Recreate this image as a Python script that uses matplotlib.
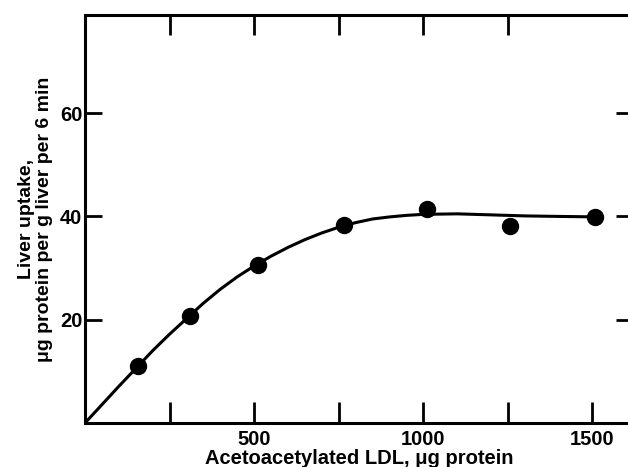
import matplotlib
matplotlib.use("Agg")
import matplotlib.pyplot as plt

# Data
ldl_x = [158, 309, 510, 766, 1011, 1256, 1509]
uptake_y = [11.1, 20.7, 30.5, 38.3, 41.4, 38.2, 39.8]

curve_x = [0, 100, 200, 250, 300, 350, 400, 450, 500, 550, 600, 650, 700, 750,
           800, 850, 900, 950, 1000, 1100, 1200, 1300, 1400, 1520]
curve_y = [0, 7.1, 14.0, 17.2, 20.2, 23.2, 25.9, 28.3, 30.4, 32.3, 34.0, 35.5,
           36.8, 37.9, 38.8, 39.5, 39.9, 40.2, 40.4, 40.5, 40.3, 40.1, 40.0, 39.9]

bottom_ticks = [250, 500, 750, 1000, 1250, 1500]
bottom_labels = ["", "500", "", "1000", "", "1500"]
top_ticks = [250, 500, 750, 1000, 1250]
y_ticks = [20, 40, 60]
y_labels = ["20", "40", "60"]

plt.rcParams['font.family'] = ['Liberation Sans', 'DejaVu Sans']

fig = plt.figure(figsize=(6.28, 4.67), dpi=100)
W, H = 628, 467
left_px, right_px, top_px, bottom_px = 85, 633, 15, 423
ax = fig.add_axes([left_px / W, 1 - bottom_px / H,
                   (right_px - left_px) / W, (bottom_px - top_px) / H])

ax.plot(curve_x, curve_y, color='black', lw=2.2, solid_capstyle='round',
        solid_joinstyle='round', zorder=2)
ax.plot(ldl_x, uptake_y, 'o', color='black', ms=11.5, zorder=3, clip_on=False)

ax.set_xlim(0, 1620)
ax.set_ylim(0, 79)

for s in ax.spines.values():
    s.set_linewidth(2.2)

ax.set_xticks(bottom_ticks)
ax.set_xticklabels(bottom_labels, fontsize=14.5, fontweight='bold')
ax.set_yticks(y_ticks)
ax.set_yticklabels(y_labels, fontsize=14.5, fontweight='bold')
ax.tick_params(axis='x', direction='in', length=15, width=2, pad=5,
               top=False, bottom=True)
ax.tick_params(axis='y', direction='in', length=12, width=2, pad=2,
               left=True, right=True)

# Top ticks
for t in top_ticks:
    ax.plot([t, t], [79, 79 - 20 / 5.18], color='black', lw=2, clip_on=False,
            solid_capstyle='butt')

ax.set_xlabel("Acetoacetylated LDL, μg protein", fontsize=14.5, fontweight='bold',
              labelpad=0)
ax.set_ylabel("Liver uptake,\nμg protein per g liver per 6 min", fontsize=14,
              fontweight='bold', labelpad=5, linespacing=1.05)

fig.savefig("out.png", dpi=100)
